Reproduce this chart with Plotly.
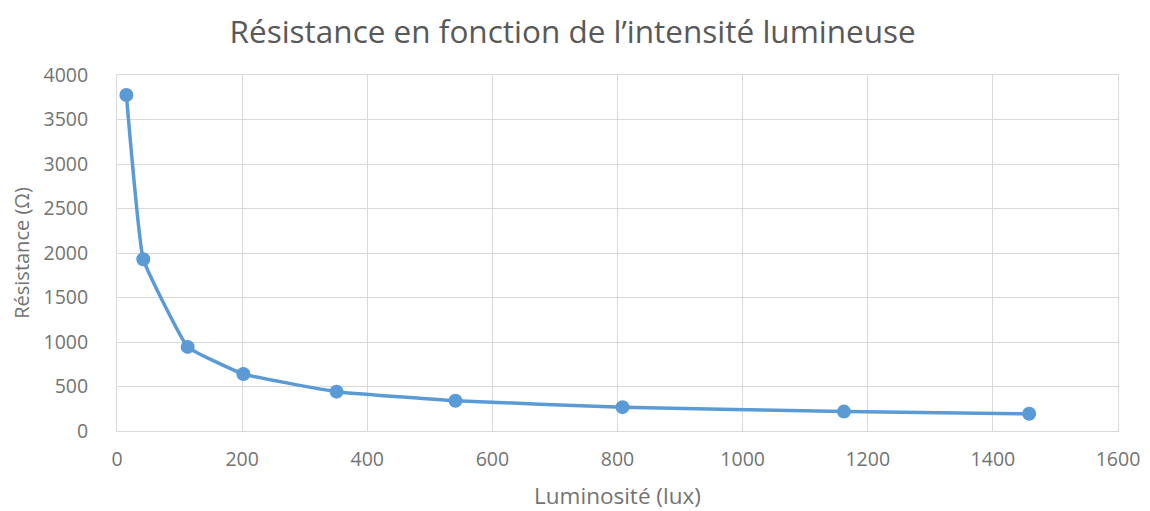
import plotly.graph_objects as go

luminosite = [15, 42, 113, 202, 351, 541, 808, 1162, 1458]
resistance = [3775, 1930, 945, 640, 442, 340, 268, 218, 193]

title_text = "Résistance en fonction de l’intensité lumineuse"
x_title = "Luminosité (lux)"
y_title = "Résistance (Ω)"

blue = "#5B9BD5"
grid = "#D9D9D9"
title_col = "#595959"
txt = "#737373"
font_family = "Open Sans, sans-serif"

fig = go.Figure()
fig.add_trace(go.Scatter(
    x=luminosite, y=resistance, mode="lines+markers",
    line=dict(color=blue, width=3.5, shape="spline", smoothing=0.3),
    marker=dict(color=blue, size=14),
    showlegend=False,
))

fig.update_layout(
    width=1150, height=511,
    margin=dict(l=109, r=40, t=67, b=88),
    paper_bgcolor="white", plot_bgcolor="white",
    font=dict(family=font_family, color=txt, size=19),
    title=dict(text=title_text, x=0.491, xanchor="center", y=0.953, yanchor="middle",
               font=dict(size=31.5, color=title_col, family=font_family)),
    xaxis=dict(range=[0, 1600], dtick=200, showgrid=True, gridcolor=grid, gridwidth=1,
               showline=True, linecolor=grid, mirror=True, zeroline=False,
               ticks="", ticklabelstandoff=11, tickfont=dict(size=19.5, color=txt),
               title=dict(text=x_title, font=dict(size=22.5, color=txt), standoff=16)),
    yaxis=dict(range=[0, 4000], dtick=500, showgrid=True, gridcolor=grid, gridwidth=1,
               showline=True, linecolor=grid, mirror=True, zeroline=False,
               ticks="", ticklabelstandoff=24, tickfont=dict(size=19.5, color=txt),
               title=dict(text=y_title, font=dict(size=20, color=txt), standoff=8)),
)

fig.write_html("out.html")
